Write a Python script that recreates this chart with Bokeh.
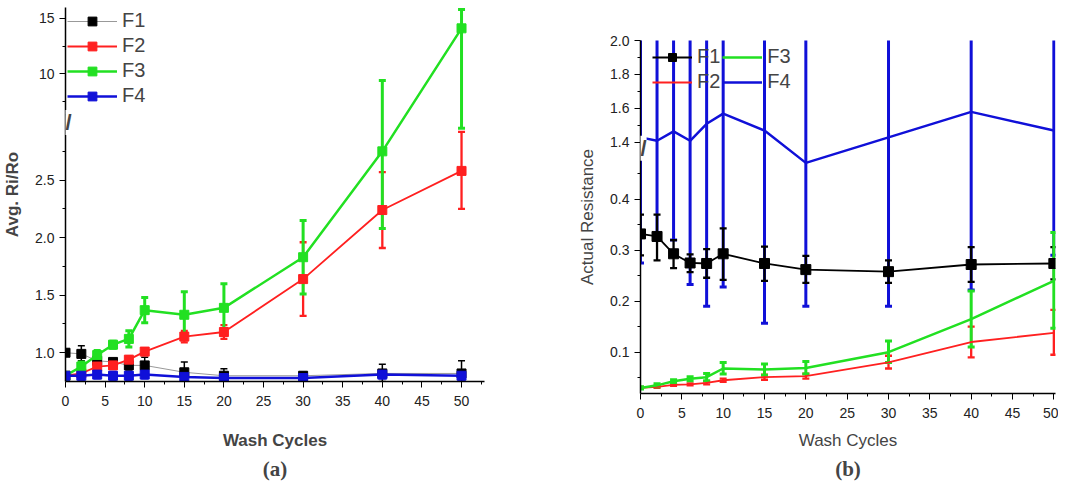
import numpy as np
from bokeh.plotting import figure
from bokeh.layouts import row, column
from bokeh.models import (ColumnDataSource, Whisker, TeeHead, Legend, LegendItem,
                          Range1d, FixedTicker, Label, Title)
from bokeh.embed import file_html
from bokeh.resources import INLINE

wash = [0, 2, 4, 6, 8, 10, 15, 20, 30, 40, 50]

# panel (a): average Ri/Ro
a_f1 = [1.00, 0.99, 0.93, 0.92, 0.89, 0.89, 0.83, 0.80, 0.80, 0.82, 0.82]
a_f1_lo = [0.97, 0.93, 0.89, 0.89, 0.85, 0.83, 0.76, 0.75, 0.77, 0.75, 0.72]
a_f1_hi = [1.03, 1.06, 0.97, 0.94, 0.93, 0.96, 0.92, 0.86, 0.83, 0.90, 0.93]
a_f2 = [0.80, 0.82, 0.88, 0.89, 0.94, 1.01, 1.14, 1.18, 1.64, 2.24, 2.58]
a_f2_lo = [0.78, 0.80, 0.85, 0.86, 0.91, 0.98, 1.09, 1.12, 1.32, 1.91, 2.25]
a_f2_hi = [0.82, 0.84, 0.91, 0.92, 0.97, 1.04, 1.19, 1.24, 1.96, 2.57, 2.92]
a_f3 = [0.80, 0.88, 0.98, 1.07, 1.12, 1.37, 1.33, 1.39, 1.83, 2.75, 14.1]
a_f3_lo = [0.78, 0.84, 0.94, 1.04, 1.05, 1.26, 1.14, 1.18, 1.51, 2.08, 2.95]
a_f3_hi = [0.82, 0.92, 1.02, 1.10, 1.19, 1.48, 1.53, 1.60, 2.15, 9.4, 15.8]
a_f4 = [0.80, 0.80, 0.81, 0.80, 0.80, 0.81, 0.79, 0.78, 0.78, 0.81, 0.80]
a_f4_lo = [0.78, 0.77, 0.78, 0.77, 0.77, 0.78, 0.76, 0.76, 0.76, 0.78, 0.77]
a_f4_hi = [0.82, 0.83, 0.84, 0.83, 0.83, 0.84, 0.82, 0.80, 0.80, 0.84, 0.83]

# panel (b): actual resistance
b_f1 = [0.332, 0.327, 0.293, 0.275, 0.274, 0.293, 0.274, 0.262, 0.258, 0.272, 0.274]
b_f1_lo = [0.29, 0.28, 0.265, 0.257, 0.246, 0.242, 0.24, 0.236, 0.236, 0.238, 0.243]
b_f1_hi = [0.37, 0.37, 0.32, 0.292, 0.302, 0.343, 0.307, 0.289, 0.28, 0.306, 0.306]
b_f2 = [0.030, 0.032, 0.036, 0.037, 0.040, 0.045, 0.051, 0.053, 0.080, 0.120, 0.138]
b_f2_lo = [0.028, 0.030, 0.034, 0.035, 0.037, 0.042, 0.046, 0.048, 0.068, 0.090, 0.095]
b_f2_hi = [0.032, 0.034, 0.038, 0.039, 0.043, 0.048, 0.056, 0.058, 0.093, 0.150, 0.183]
b_f3 = [0.030, 0.035, 0.043, 0.048, 0.051, 0.068, 0.066, 0.069, 0.100, 0.165, 0.240]
b_f3_lo = [0.028, 0.032, 0.040, 0.044, 0.044, 0.057, 0.055, 0.057, 0.080, 0.110, 0.147]
b_f3_hi = [0.032, 0.038, 0.046, 0.052, 0.058, 0.080, 0.077, 0.082, 0.122, 0.220, 0.335]
b_f4 = [1.43, 1.41, 1.465, 1.41, 1.51, 1.57, 1.47, 1.28, 1.43, 1.58, 1.47]
b_f4_lo = [0.275, 0.32, 0.32, 0.233, 0.19, 0.228, 0.157, 0.19, 0.19, 0.222, 0.29]
b_f4_hi = [2.6] * 11

FONT = "Liberation Sans"
BLACK, RED, GREEN, BLUE = "#000000", "#ff2020", "#22e022", "#1010d8"


# broken axis mappings
def map_a(v):
    v = np.asarray(v, dtype=float)
    return np.where(v <= 3.0, v, np.where(v >= 5.6, 3.0 + (v - 5.6) * 10.6 / 110, 3.0))


def map_b(v):
    v = np.asarray(v, dtype=float)
    return np.where(v <= 0.5, v, np.where(v >= 1.0, 0.5 + (v - 1.366) / 3.0, 0.5))


def style(p, bold):
    p.xgrid.grid_line_color = None
    p.ygrid.grid_line_color = None
    p.outline_line_color = None
    for ax in (p.xaxis, p.yaxis):
        ax.axis_line_width = 1.5
        ax.major_label_text_font = FONT
        ax.major_label_text_font_size = "14px"
        ax.major_label_text_color = "#222222"
        ax.axis_label_text_font = FONT
        ax.axis_label_text_font_size = "17px"
        ax.axis_label_text_font_style = "bold" if bold else "normal"
        ax.major_tick_out = 6
        ax.minor_tick_out = 3
        ax.minor_tick_in = 0
        ax.major_tick_in = 0
    p.xaxis.major_label_standoff = 8
    p.xaxis.axis_label_standoff = 16
    p.yaxis.axis_label_standoff = 10
    p.xaxis.ticker = FixedTicker(ticks=list(range(0, 55, 5)),
                                 minor_ticks=[x + 2.5 for x in range(0, 55, 5)])


def series(p, fmap, y, lo, hi, color, lw, marker, msize, line_color=None):
    src = ColumnDataSource(dict(x=wash, y=fmap(y), lo=fmap(lo), hi=fmap(hi)))
    p.add_layout(Whisker(source=src, base="x", upper="hi", lower="lo", line_color=color,
                         line_width=lw + 0.5,
                         upper_head=TeeHead(size=7, line_color=color, line_width=lw + 0.5),
                         lower_head=TeeHead(size=7, line_color=color, line_width=lw + 0.5)))
    r = [p.line("x", "y", source=src, line_color=line_color or color, line_width=lw)]
    if marker:
        r.append(p.scatter("x", "y", source=src, marker="square", size=msize,
                           color=color))
    return r


def brk(p, y):
    p.add_layout(Label(x=0, y=y, text="//", text_font=FONT, text_font_size="22px",
                       text_font_style="bold", text_align="center", text_baseline="middle",
                       background_fill_color="white", text_line_height=0.8))


def caption(p, txt, offset):
    p.add_layout(Title(text=txt, align="center", text_font="Liberation Serif",
                       text_font_size="21px", text_font_style="bold", offset=offset,
                       standoff=4), "below")


# ---- panel (a)
pa = figure(width=575, height=482,
            min_border_left=60, min_border_top=7, min_border_right=91, min_border_bottom=100,
            x_range=Range1d(0, 52.9), y_range=Range1d(0.75, 4.0),
            output_backend="svg", toolbar_location=None, x_axis_label="Wash Cycles",
            y_axis_label="Avg. Ri/Ro")
style(pa, True)
pa.xaxis.axis_label_standoff = 22
ya_ticks = [1.0, 1.5, 2.0, 2.5, 10, 15]
ya_pos = [float(t) for t in map_a(ya_ticks)]
pa.yaxis.ticker = FixedTicker(ticks=ya_pos,
                              minor_ticks=[float(t) for t in map_a([1.25, 1.75, 2.25, 2.75, 7.5, 12.5])])
pa.yaxis.major_label_overrides = {p: ("%g" % t if t >= 10 else "%.1f" % t)
                                  for p, t in zip(ya_pos, ya_ticks)}

ra1 = series(pa, map_a, a_f1, a_f1_lo, a_f1_hi, BLACK, 1, True, 9, line_color="#999999")
ra2 = series(pa, map_a, a_f2, a_f2_lo, a_f2_hi, RED, 1.8, True, 9)
ra3 = series(pa, map_a, a_f3, a_f3_lo, a_f3_hi, GREEN, 2.5, True, 9)
ra4 = series(pa, map_a, a_f4, a_f4_lo, a_f4_hi, BLUE, 2.5, True, 9)
leg_a = Legend(items=[LegendItem(label="F1", renderers=ra1), LegendItem(label="F2", renderers=ra2),
                      LegendItem(label="F3", renderers=ra3), LegendItem(label="F4", renderers=ra4)],
               location="top_left", label_text_font=FONT, label_text_font_size="20px",
               glyph_width=50, glyph_height=22, spacing=2, border_line_color=None,
               background_fill_alpha=0, margin=2, padding=4)
pa.add_layout(leg_a)
brk(pa, 3.0)
caption(pa, "(a)", -40)

# ---- panel (b)
pb = figure(width=483, height=482,
            min_border_left=60, min_border_top=40, min_border_right=3, min_border_bottom=70,
            x_range=Range1d(0, 50.2), y_range=Range1d(0.019, float(map_b(2.0))),
            output_backend="svg", toolbar_location=None, x_axis_label="Wash Cycles",
            y_axis_label="Actual Resistance")
style(pb, False)
pb.xaxis.axis_label_standoff = 10
yb_ticks = [0.1, 0.2, 0.3, 0.4, 1.4, 1.6, 1.8, 2.0]
yb_pos = [float(t) for t in map_b(yb_ticks)]
pb.yaxis.ticker = FixedTicker(ticks=yb_pos, minor_ticks=[float(t) for t in map_b(
    [0.05, 0.15, 0.25, 0.35, 0.45, 1.5, 1.7, 1.9])])
pb.yaxis.major_label_overrides = {p: "%.1f" % t for p, t in zip(yb_pos, yb_ticks)}

rb4 = series(pb, map_b, b_f4, b_f4_lo, b_f4_hi, BLUE, 2.5, False, 0)
rb1 = series(pb, map_b, b_f1, b_f1_lo, b_f1_hi, BLACK, 1.8, True, 10)
rb2 = series(pb, map_b, b_f2, b_f2_lo, b_f2_hi, RED, 1.8, False, 0)
rb3 = series(pb, map_b, b_f3, b_f3_lo, b_f3_hi, GREEN, 2.5, False, 0)
leg_b = Legend(items=[LegendItem(label="F1", renderers=rb1), LegendItem(label="F3", renderers=rb3),
                      LegendItem(label="F2", renderers=rb2), LegendItem(label="F4", renderers=rb4)],
               location=(12, 300), orientation="horizontal", ncols=2,
               label_text_font=FONT, label_text_font_size="20px",
               glyph_width=40, glyph_height=20, spacing=2, border_line_color=None,
               background_fill_alpha=0, margin=0, padding=2)
pb.add_layout(leg_b, "center")
brk(pb, 0.5)
caption(pb, "(b)", 0)

layout = row(column(pa), column(pb))
open("out.html", "w").write(file_html(layout, INLINE))
